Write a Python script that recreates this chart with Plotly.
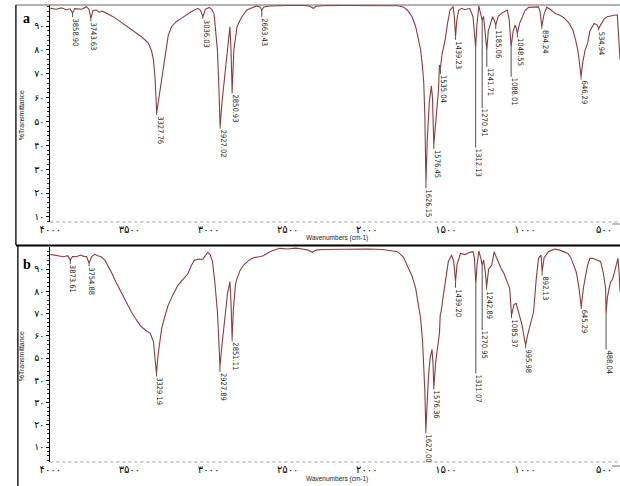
import plotly.graph_objects as go

# ---------------- data ----------------
x_tick_vals = [4000, 3500, 3000, 2500, 2000, 1500, 1000, 500]
x_tick_text = ["۴۰۰۰", "۳۵۰۰", "۳۰۰۰", "۲۵۰۰", "۲۰۰۰", "۱۵۰۰", "۱۰۰۰", "۵۰۰"]
y_tick_vals = [10, 20, 30, 40, 50, 60, 70, 80, 90]
y_tick_text = ["۱۰", "۲۰", "۳۰", "۴۰", "۵۰", "۶۰", "۷۰", "۸۰", "۹۰"]

a_wn = [4000, 3960, 3930, 3900, 3875, 3858.9, 3845, 3800, 3772, 3755, 3743.6, 3730, 3710, 3690,
        3670, 3648, 3620, 3586, 3540, 3483, 3420, 3379, 3360, 3348, 3338, 3327.8, 3310, 3296,
        3285, 3275, 3255, 3234, 3200, 3172, 3140, 3110, 3068, 3050, 3036, 3020, 2996, 2980,
        2965, 2950, 2944, 2935, 2927, 2915, 2893, 2875, 2865, 2858, 2851, 2840, 2820, 2800,
        2789, 2758, 2720, 2696, 2675, 2663.4, 2650, 2613, 2500, 2406, 2360, 2338, 2320, 2281,
        2150, 1992, 1850, 1806, 1770, 1744, 1715, 1691, 1675, 1660, 1648, 1640, 1633, 1626.2,
        1618, 1605, 1592, 1585, 1576.5, 1565, 1552, 1547, 1541, 1535, 1525, 1505, 1490, 1474,
        1454, 1447, 1439.2, 1432, 1420, 1402, 1380, 1350, 1329, 1320, 1312, 1305, 1292, 1280,
        1270.9, 1262, 1250, 1241.7, 1232, 1220, 1205, 1195, 1185, 1170, 1150, 1130, 1112, 1100,
        1088, 1075, 1062, 1055, 1048.6, 1035, 1019, 1000, 977, 940, 915, 905, 894.2, 880, 863,
        840, 812, 780, 750, 720, 698, 680, 667, 655, 646.3, 635, 620, 605, 590, 563, 545, 534.9,
        520, 500, 480, 450, 430, 417, 410, 400]
a_T = [97.4, 97.0, 97.6, 96.8, 97.2, 95.4, 97.3, 97.0, 98.1, 97.0, 93.2, 96.5, 96.7, 95.8,
       96.2, 95.3, 94.5, 93.2, 91.0, 88.3, 85.3, 82.7, 79.5, 75.8, 68.0, 53.6, 62.0, 68.0,
       74.0, 78.6, 86.0, 89.7, 92.0, 93.2, 94.8, 96.0, 97.4, 96.5, 93.9, 97.0, 97.8, 97.0,
       95.0, 85.0, 80.0, 65.0, 47.8, 58.0, 73.0, 85.0, 89.7, 80.0, 62.5, 80.0, 89.7, 92.5,
       93.9, 96.7, 97.8, 98.4, 98.0, 96.7, 98.0, 98.4, 98.6, 98.7, 98.3, 97.4, 98.3, 98.5,
       98.6, 98.4, 98.5, 98.5, 98.0, 96.7, 94.0, 89.7, 85.0, 80.0, 73.0, 66.0, 52.0, 24.5,
       42.0, 58.0, 64.9, 60.0, 40.2, 50.0, 60.0, 63.2, 73.7, 72.3, 78.0, 84.1, 91.0, 96.7,
       98.1, 94.0, 85.5, 92.0, 96.5, 97.4, 96.8, 97.4, 93.9, 88.0, 81.0, 90.0, 98.4, 95.0,
       92.5, 94.0, 86.0, 80.0, 88.0, 91.1, 93.9, 92.5, 90.4, 94.0, 95.3, 96.0, 96.7, 92.5,
       81.3, 88.0, 90.4, 89.0, 86.9, 91.0, 93.9, 96.5, 97.8, 98.0, 98.0, 96.0, 89.7, 95.0, 97.8,
       97.0, 95.3, 94.5, 93.2, 91.0, 88.3, 84.0, 80.0, 74.0, 68.8, 75.0, 80.0, 82.7, 88.0, 91.1, 90.5, 89.0,
       91.0, 93.0, 93.9, 94.5, 94.6, 94.6, 85.0, 76.0]

b_wn = [4000, 3960, 3917, 3890, 3873.6, 3860, 3834, 3810, 3793, 3770, 3754.9, 3740, 3720, 3700,
        3679, 3655, 3638, 3610, 3586, 3555, 3524, 3490, 3462, 3430, 3400, 3368, 3348, 3338,
        3329.2, 3318, 3305, 3296, 3275, 3255, 3225, 3193, 3160, 3130, 3110, 3089, 3060, 3037,
        3020, 3006, 2990, 2975, 2960, 2944, 2935, 2927.9, 2915, 2893, 2880, 2865, 2858, 2851.1,
        2843, 2830, 2820, 2800, 2778, 2740, 2716, 2680, 2654, 2613, 2580, 2551, 2500, 2450,
        2406, 2370, 2344, 2320, 2281, 2150, 1992, 1900, 1806, 1770, 1744, 1715, 1691, 1675,
        1660, 1648, 1640, 1633, 1627, 1620, 1610, 1600, 1588, 1582, 1576.4, 1565, 1550, 1541,
        1536, 1530, 1516, 1500, 1485, 1464, 1450, 1439.2, 1430, 1408, 1380, 1350, 1329, 1320,
        1311, 1303, 1292, 1280, 1271, 1262, 1250, 1242.9, 1230, 1210, 1195, 1180, 1163, 1150,
        1133, 1115, 1097, 1085.4, 1070, 1056, 1040, 1019, 1005, 996, 985, 965, 946, 930, 915,
        899, 892.1, 880, 853, 830, 812, 780, 750, 729, 710, 690, 677, 660, 645.3, 630, 617, 605,
        590, 574, 555, 535, 522, 505, 491, 488, 480, 470, 460, 445, 430, 413, 405, 400]
b_T = [96.6, 96.0, 95.5, 96.0, 94.0, 95.6, 95.5, 96.3, 95.8, 95.5, 92.6, 95.5, 96.6, 96.0,
       95.5, 94.0, 91.8, 88.0, 84.3, 80.0, 75.3, 71.0, 67.8, 64.5, 62.6, 61.1, 57.3, 50.0,
       43.0, 52.0, 60.0, 63.3, 69.0, 73.8, 78.5, 82.8, 85.5, 88.0, 91.5, 94.0, 94.5, 94.3,
       96.0, 97.5, 96.5, 93.3, 84.0, 70.8, 58.0, 46.0, 56.0, 70.8, 79.0, 84.3, 75.0, 58.8,
       72.0, 83.0, 85.8, 89.5, 91.8, 94.2, 95.1, 95.5, 96.0, 97.8, 98.5, 99.3, 99.0, 99.4,
       99.0, 98.5, 97.5, 98.5, 98.8, 99.0, 99.0, 98.8, 97.8, 95.5, 91.8, 87.0, 81.3, 75.0,
       67.8, 58.0, 48.3, 35.0, 17.5, 28.0, 42.0, 50.0, 53.9, 48.0, 36.8, 48.0, 58.0, 61.1,
       69.3, 71.0, 78.3, 87.0, 93.3, 96.3, 93.0, 84.3, 92.0, 97.0, 96.5, 97.5, 97.8, 95.0,
       83.5, 92.0, 98.1, 95.0, 91.8, 94.0, 88.0, 82.0, 90.0, 91.8, 97.8, 95.0, 91.8, 90.0,
       88.0, 85.0, 81.3, 69.3, 74.0, 74.6, 70.0, 64.8, 59.0, 55.8, 60.0, 66.0, 70.8, 85.0, 94.8,
       96.3, 88.8, 95.0, 97.8, 98.5, 99.0, 98.5, 97.8, 97.0, 95.0, 91.5, 88.8, 82.0, 73.0, 82.0, 88.0, 91.8,
       94.8, 94.8, 94.3, 93.8, 93.3, 88.0, 81.3, 70.0, 77.0, 81.0, 84.0, 85.8, 90.0, 94.8, 88.0, 80.0]

a_peak_wn = [3858.9, 3743.6, 3327.8, 3036, 2927, 2851, 2663.4, 1626.2, 1576.5, 1535, 1439.2,
             1312, 1270.9, 1241.7, 1185, 1088, 1048.6, 894.2, 646.3, 534.9]
a_peak_T = [95.4, 93.2, 53.6, 93.9, 47.8, 62.5, 96.7, 24.5, 40.2, 72.3, 85.5,
            81.0, 92.5, 80.0, 90.4, 81.3, 86.9, 89.7, 68.8, 89.0]
a_peak_text = ["3858.90", "3743.63", "3327.76", "3036.03", "2927.02", "2850.93", "2663.43",
               "1626.15", "1576.45", "1535.04", "1439.23", "1312.13", "1270.91", "1241.71",
               "1185.06", "1088.01", "1048.55", "894.24", "646.29", "534.94"]

b_peak_wn = [3873.6, 3754.9, 3329.2, 2927.9, 2851.1, 1627, 1576.4, 1439.2, 1311, 1271,
             1242.9, 1085.4, 996, 892.1, 645.3, 488]
b_peak_T = [94.0, 92.6, 43.0, 46.0, 58.8, 17.5, 36.8, 84.3, 83.5, 91.8,
            82.0, 69.3, 55.8, 88.8, 73.0, 70.0]
b_peak_text = ["3873.61", "3754.88", "3329.19", "2927.89", "2851.11", "1627.00", "1576.36",
               "1439.20", "1311.07", "1270.95", "1242.89", "1085.37", "995.98", "892.13",
               "645.29", "488.04"]

# ---------------- styling / layout ----------------
W, H = 620, 486
a_leader_px = [4, 3, 2, 2, 2, 2, 7, 6, 4, 6, 3, 100, 88, 17, 4, 30, 4, 2, 3, 2]
b_leader_px = [4, 3, 3, 5, 3, 3, 2, 6, 90, 65, 3, 3, 3, 4, 2, 36]

plot_left, plot_right = 40, 620
a_top, a_bot = 5, 222
b_top, b_bot = 247, 462
a_range = [7.9, 98.8]
b_range = [3.3, 99.9]
x_range = [4000, 400]

curve_color = "#8e3b3b"
label_font = dict(family="Liberation Sans Narrow, DejaVu Sans Condensed, Arial Narrow, sans-serif",
                  size=7.5, color="#222222")
tick_font = dict(family="DejaVu Sans, sans-serif", size=9.5, color="black")

fig = go.Figure()
fig.add_trace(go.Scatter(x=a_wn, y=a_T, mode="lines", line=dict(color=curve_color, width=1.1),
                         xaxis="x", yaxis="y", showlegend=False, hoverinfo="skip"))
fig.add_trace(go.Scatter(x=b_wn, y=b_T, mode="lines", line=dict(color=curve_color, width=1.1),
                         xaxis="x2", yaxis="y2", showlegend=False, hoverinfo="skip"))


def ydom(top, bot):
    return [1 - bot / H, 1 - top / H]


xdom = [plot_left / W, plot_right / W]
common_x = dict(domain=xdom, range=x_range, showgrid=False, zeroline=False, showline=False,
                tickmode="array", tickvals=x_tick_vals, ticktext=x_tick_text,
                tickfont=dict(tick_font, size=10), ticks="")
common_y = dict(showgrid=False, zeroline=False, showline=True, linecolor="black", linewidth=1,
                tickmode="array", tickvals=y_tick_vals, ticktext=y_tick_text, tickfont=tick_font,
                ticks="outside", ticklen=3, tickcolor="black", tickwidth=1,
                minor=dict(ticks="outside", ticklen=2, dtick=2, tickcolor="#333", tickwidth=0.6))

fig.update_layout(
    width=W, height=H, margin=dict(l=0, r=0, t=0, b=0),
    paper_bgcolor="white", plot_bgcolor="white",
    xaxis=dict(common_x, anchor="y"),
    yaxis=dict(common_y, domain=ydom(a_top, a_bot), range=a_range, anchor="x"),
    xaxis2=dict(common_x, anchor="y2"),
    yaxis2=dict(common_y, domain=ydom(b_top, b_bot), range=b_range, anchor="x2"),
)

shapes = []
annotations = []


def add_labels(wns, Ts, texts, leaders, xref, yref, top, bot, rng):
    ppu = (bot - top) / (rng[1] - rng[0])
    for wn, T, txt, lp in zip(wns, Ts, texts, leaders):
        y_end = T - lp / ppu
        shapes.append(dict(type="line", xref=xref, yref=yref, x0=wn, x1=wn, y0=T, y1=y_end,
                           line=dict(color="#222222", width=0.8)))
        annotations.append(dict(x=wn, y=y_end, xref=xref, yref=yref, text=txt, showarrow=False,
                                textangle=90, xanchor="center", yanchor="top", xshift=3,
                                font=label_font, borderpad=0))


add_labels(a_peak_wn, a_peak_T, a_peak_text, a_leader_px, "x", "y", a_top, a_bot, a_range)
add_labels(b_peak_wn, b_peak_T, b_peak_text, b_leader_px, "x2", "y2", b_top, b_bot, b_range)

# dotted bottom axis lines
for xr, yr in (("x domain", "y domain"), ("x2 domain", "y2 domain")):
    shapes.append(dict(type="line", xref=xr, yref=yr, x0=0, x1=1, y0=0, y1=0,
                       line=dict(color="#9a9a9a", width=1, dash="dot")))

# frames
shapes += [
    dict(type="line", xref="paper", yref="paper", x0=5 / W, x1=1, y0=1 - 5 / H, y1=1 - 5 / H,
         line=dict(color="#666666", width=1)),
    dict(type="line", xref="paper", yref="paper", x0=5 / W, x1=5 / W, y0=1 - 5 / H, y1=1 - 245 / H,
         line=dict(color="black", width=1.3)),
    dict(type="line", xref="paper", yref="paper", x0=5 / W, x1=1, y0=1 - 245.5 / H, y1=1 - 245.5 / H,
         line=dict(color="black", width=2)),
    dict(type="line", xref="paper", yref="paper", x0=7 / W, x1=7 / W, y0=1 - 246 / H, y1=0,
         line=dict(color="black", width=1.3)),
    dict(type="line", xref="paper", yref="paper", x0=612 / W, x1=1, y0=1 - 224 / H, y1=1 - 224 / H,
         line=dict(color="#777777", width=1)),
    dict(type="line", xref="paper", yref="paper", x0=612 / W, x1=1, y0=1 - 466 / H, y1=1 - 466 / H,
         line=dict(color="#777777", width=1)),
]

# panel letters and axis titles
for letter, yp in (("a", 19), ("b", 264)):
    annotations.append(dict(x=16 / W, y=1 - yp / H, xref="paper", yref="paper", text="<b>%s</b>" % letter,
                            showarrow=False, xanchor="center", yanchor="middle",
                            font=dict(family="Liberation Serif, serif", size=14, color="black")))
for yc in ((a_top + a_bot) / 2 + 2, (b_top + b_bot) / 2 + 2):
    annotations.append(dict(x=11 / W, y=1 - yc / H, xref="paper", yref="paper", text="%Transmittance",
                            textangle=-90, showarrow=False, xanchor="center", yanchor="middle",
                            font=dict(family="Liberation Sans, Arial, sans-serif", size=7, color="#222")))
for yc in (238, 479):
    annotations.append(dict(x=332 / W, y=1 - yc / H, xref="paper", yref="paper", text="Wavenumbers (cm-1)",
                            showarrow=False, xanchor="center", yanchor="middle",
                            font=dict(family="Liberation Sans, Arial, sans-serif", size=6.5, color="#222")))

fig.update_layout(shapes=shapes, annotations=annotations)
fig.write_html("out.html")
